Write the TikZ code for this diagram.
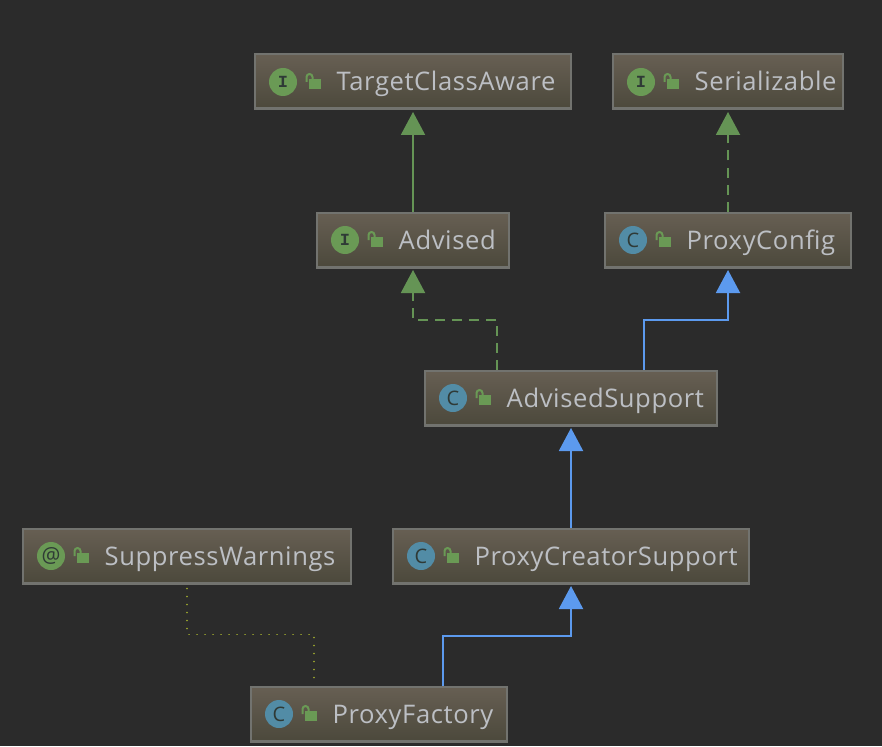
\documentclass[tikz,border=0pt]{standalone}
\usepackage{fontspec}
\setmainfont{Open Sans}[LetterSpace=2.3]
\newfontfamily\iconserif{Liberation Mono}
\newfontfamily\iconsans{Open Sans}
\usetikzlibrary{arrows.meta,calc}
\definecolor{bgc}{HTML}{2B2B2B}
\definecolor{boxtop}{HTML}{675F53}
\definecolor{boxbot}{HTML}{4C493C}
\definecolor{boxline}{HTML}{72736F}
\definecolor{txt}{HTML}{BCBFC4}
\definecolor{grn}{HTML}{6A9A55}
\definecolor{lin}{HTML}{659455}
\definecolor{blu}{HTML}{5C9AEE}
\definecolor{cicon}{HTML}{528CA6}
\definecolor{icondark}{HTML}{2F3A36}
\definecolor{olive}{HTML}{9AA52E}
\tikzset{
  x=1pt,y=-1pt,
  umlbox/.style={draw=boxline,line width=2pt,top color=boxtop,bottom color=boxbot,minimum height=54pt,inner sep=0pt,rectangle},
  icon/.style={circle,minimum size=28pt,inner sep=0pt,text=icondark},
  iface/.style={icon,fill=grn},
  klass/.style={icon,fill=cicon},
  label/.style={anchor=base west,inner sep=0pt,text=txt,font=\fontsize{25.6}{27}\selectfont},
  inherit/.style={line width=2pt,-{Triangle[length=23pt,width=24pt]},shorten >=2.5pt},
  greenline/.style={inherit,draw=lin,color=lin},
  blueline/.style={inherit,draw=blu,color=blu},
  greendash/.style={greenline,dash pattern=on 10pt off 7pt},
  annot/.style={draw=olive,line width=1.7pt,line cap=round,dash pattern=on 0.1pt off 7.9pt},
  lockicon/.pic={
    \fill[grn] (6,-3) rectangle (18,7);
    \draw[grn,line width=2pt] (3.5,0) -- (3.5,-5) arc[start angle=180,end angle=0,x radius=3,y radius=-3] -- (9.5,-3);
  }
}
\newcommand{\umlnode}[6]{% name, left, top, width, icon style, text
  \node[umlbox,minimum width=#4pt] (#1) at ({#2+#4/2},{#3+27.5}) {};
  \draw[boxline,line width=3pt] ([yshift=0.5pt]#1.south west) -- ([yshift=0.5pt]#1.south east);
  \node[#5] (#1icon) at ({#2+28},{#3+28}) {\iconglyph};
  \pic at ({#2+48},{#3+28}) {lockicon};
  \node[label] (#1text) at ({#2+81.5},{#3+37}) {#6};
}
\begin{document}
\begin{tikzpicture}
\useasboundingbox (0,0) rectangle (882,746);
\fill[bgc] (0,0) rectangle (882,746);

\def\iconglyph{\iconserif\fontsize{17}{17}\selectfont\bfseries I}
\umlnode{tca}{255}{54}{316}{iface}{TargetClassAware}
\umlnode{ser}{613}{54}{230}{iface}{Serializable}
\umlnode{adv}{317}{212}{192}{iface}{Advised}
\def\iconglyph{\iconsans\fontsize{20}{20}\selectfont C}
\umlnode{pcf}{605}{212}{246}{klass}{ProxyConfig}
\umlnode{ads}{425}{370}{292}{klass}{AdvisedSupport}
\umlnode{pcs}{393}{528}{356}{klass}{ProxyCreatorSupport}
\umlnode{pfa}{251}{686}{256}{klass}{ProxyFactory}
\def\iconglyph{\iconsans\fontsize{21}{21}\selectfont @}
\umlnode{sup}{23}{528}{328}{iface}{SuppressWarnings}

\draw[greenline] (adv.north) -- (tca.south);
\draw[greendash] (pcf.north) -- (ser.south);
\draw[greendash] ([xshift=-74pt]ads.north) -- ++(0,-50) -| (adv.south);
\draw[blueline] ([xshift=73pt]ads.north) -- ++(0,-50) -| (pcf.south);
\draw[blueline] (pcs.north) -- (ads.south);
\draw[blueline] ([xshift=64pt]pfa.north) -- ++(0,-50) -| (pcs.south);
\draw[annot] ([yshift=-5pt]sup.south) -- ++(0,46) -| ([xshift=-65pt,yshift=4pt]pfa.north);
\end{tikzpicture}
\end{document}
